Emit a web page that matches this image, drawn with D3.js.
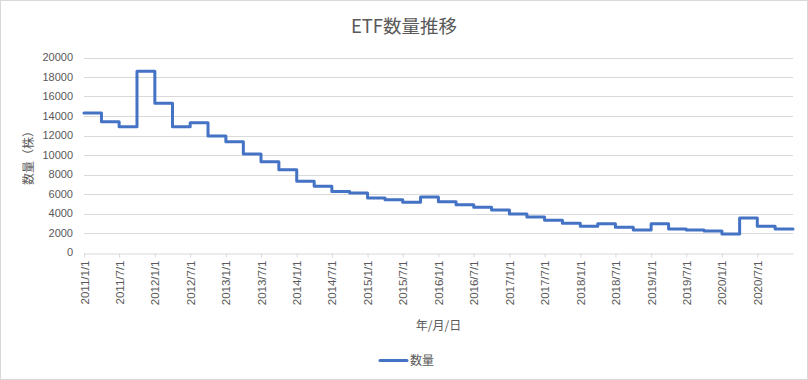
<!DOCTYPE html>
<html>
<head>
<meta charset="utf-8">
<script src="https://cdn.jsdelivr.net/npm/d3@7"></script>
<style>
  body { margin: 0; background: #fff; }
  text { fill: #595959; font-family: "Liberation Sans", "Noto Sans CJK JP", sans-serif; }
  .cjk { font-family: "Noto Sans CJK JP", sans-serif; }
</style>
</head>
<body>
<svg width="808" height="380"></svg>
<script>
// quarterly ETF counts (step chart)
var quarters = [
  "2011-01-01", "2011-04-01", "2011-07-01", "2011-10-01",
  "2012-01-01", "2012-04-01", "2012-07-01", "2012-10-01",
  "2013-01-01", "2013-04-01", "2013-07-01", "2013-10-01",
  "2014-01-01", "2014-04-01", "2014-07-01", "2014-10-01",
  "2015-01-01", "2015-04-01", "2015-07-01", "2015-10-01",
  "2016-01-01", "2016-04-01", "2016-07-01", "2016-10-01",
  "2017-01-01", "2017-04-01", "2017-07-01", "2017-10-01",
  "2018-01-01", "2018-04-01", "2018-07-01", "2018-10-01",
  "2019-01-01", "2019-04-01", "2019-07-01", "2019-10-01",
  "2020-01-01", "2020-04-01", "2020-07-01", "2020-10-01"
];
var counts = [
  14300, 13400, 12900, 18600,
  15300, 12900, 13300, 11950,
  11350, 10100, 9300, 8500,
  7300, 6800, 6250, 6100,
  5600, 5400, 5150, 5700,
  5200, 4900, 4650, 4350,
  3950, 3650, 3300, 3000,
  2700, 2950, 2600, 2300,
  2950, 2400, 2300, 2200,
  1900, 3550, 2700, 2400
];
var endDate = "2021-01-01";
var yTicks = [0, 2000, 4000, 6000, 8000, 10000, 12000, 14000, 16000, 18000, 20000];

var parseDate = d3.timeParse("%Y-%m-%d");
var fmt = d3.timeFormat("%Y/%-m/%-d");

var svg = d3.select("svg");

var plotLeft = 84, plotRight = 793, plotTop = 57.5, plotBottom = 252.5;

var x = d3.scaleTime()
    .domain([parseDate(quarters[0]), parseDate(endDate)])
    .range([plotLeft, plotRight]);

var y = d3.scaleLinear()
    .domain([0, 20000])
    .range([plotBottom, plotTop]);

// chart border
svg.append("rect")
    .attr("x", 0.5).attr("y", 0.5)
    .attr("width", 807).attr("height", 379)
    .style("fill", "none")
    .style("stroke", "#d9d9d9");

// title
svg.append("text")
    .attr("x", 404).attr("y", 33)
    .attr("text-anchor", "middle")
    .attr("class", "cjk")
    .style("font-size", "18.5px")
    .text("ETF数量推移");

// gridlines
svg.append("g")
    .selectAll("line")
    .data(yTicks.slice(1))
    .enter().append("line")
    .attr("x1", plotLeft).attr("x2", plotRight)
    .attr("y1", function(d) { return Math.round(y(d)) + 0.5; })
    .attr("y2", function(d) { return Math.round(y(d)) + 0.5; })
    .style("stroke", "#d9d9d9")
    .style("stroke-width", 1);

// y labels
svg.append("g")
    .selectAll("text")
    .data(yTicks)
    .enter().append("text")
    .attr("x", 73)
    .attr("y", function(d) { return y(d); })
    .attr("dy", "0.35em")
    .attr("text-anchor", "end")
    .style("font-size", "11px")
    .text(function(d) { return d; });

// x axis
var xTicks = d3.timeMonth.every(6).range(parseDate(quarters[0]), parseDate(endDate));

var xAxis = svg.append("g")
    .attr("transform", "translate(0," + (Math.round(plotBottom) + 0.5) + ")")
    .call(d3.axisBottom(x)
        .tickValues(xTicks)
        .tickSize(4)
        .tickSizeOuter(0)
        .tickFormat(fmt));

xAxis.attr("font-family", null).attr("font-size", null);
xAxis.select(".domain").style("stroke", "#d9d9d9");
xAxis.selectAll(".tick line").style("stroke", "#d9d9d9");
xAxis.selectAll(".tick text")
    .attr("transform", "rotate(-90)")
    .attr("x", -7)
    .attr("y", 0)
    .attr("dy", "0.35em")
    .attr("text-anchor", "end")
    .style("font-size", "11.5px")
    .style("fill", "#595959");

// axis titles
svg.append("text")
    .attr("x", (plotLeft + plotRight) / 2).attr("y", 330)
    .attr("text-anchor", "middle")
    .attr("class", "cjk")
    .style("font-size", "12px")
    .text("年/月/日");

svg.append("text")
    .attr("transform", "translate(33," + ((plotTop + plotBottom) / 2) + ") rotate(-90)")
    .attr("text-anchor", "middle")
    .attr("class", "cjk")
    .style("font-size", "12px")
    .text("数量（株）");

// line
var lineData = quarters.map(function(q, i) {
    return { date: parseDate(q), value: counts[i] };
});
lineData.push({ date: parseDate(endDate), value: counts[counts.length - 1] });

var line = d3.line()
    .curve(d3.curveStepAfter)
    .x(function(d) { return x(d.date); })
    .y(function(d) { return y(d.value); });

svg.append("path")
    .datum(lineData)
    .attr("d", line)
    .style("fill", "none")
    .style("stroke", "#4472c4")
    .style("stroke-width", 3)
    .style("stroke-linejoin", "round")
    .style("stroke-linecap", "round");

// legend
svg.append("line")
    .attr("x1", 380).attr("x2", 407)
    .attr("y1", 360.5).attr("y2", 360.5)
    .style("stroke", "#4472c4")
    .style("stroke-width", 3)
    .style("stroke-linecap", "round");

svg.append("text")
    .attr("x", 410).attr("y", 360.5)
    .attr("dy", "0.35em")
    .attr("class", "cjk")
    .style("font-size", "12px")
    .text("数量");
</script>
</body>
</html>
